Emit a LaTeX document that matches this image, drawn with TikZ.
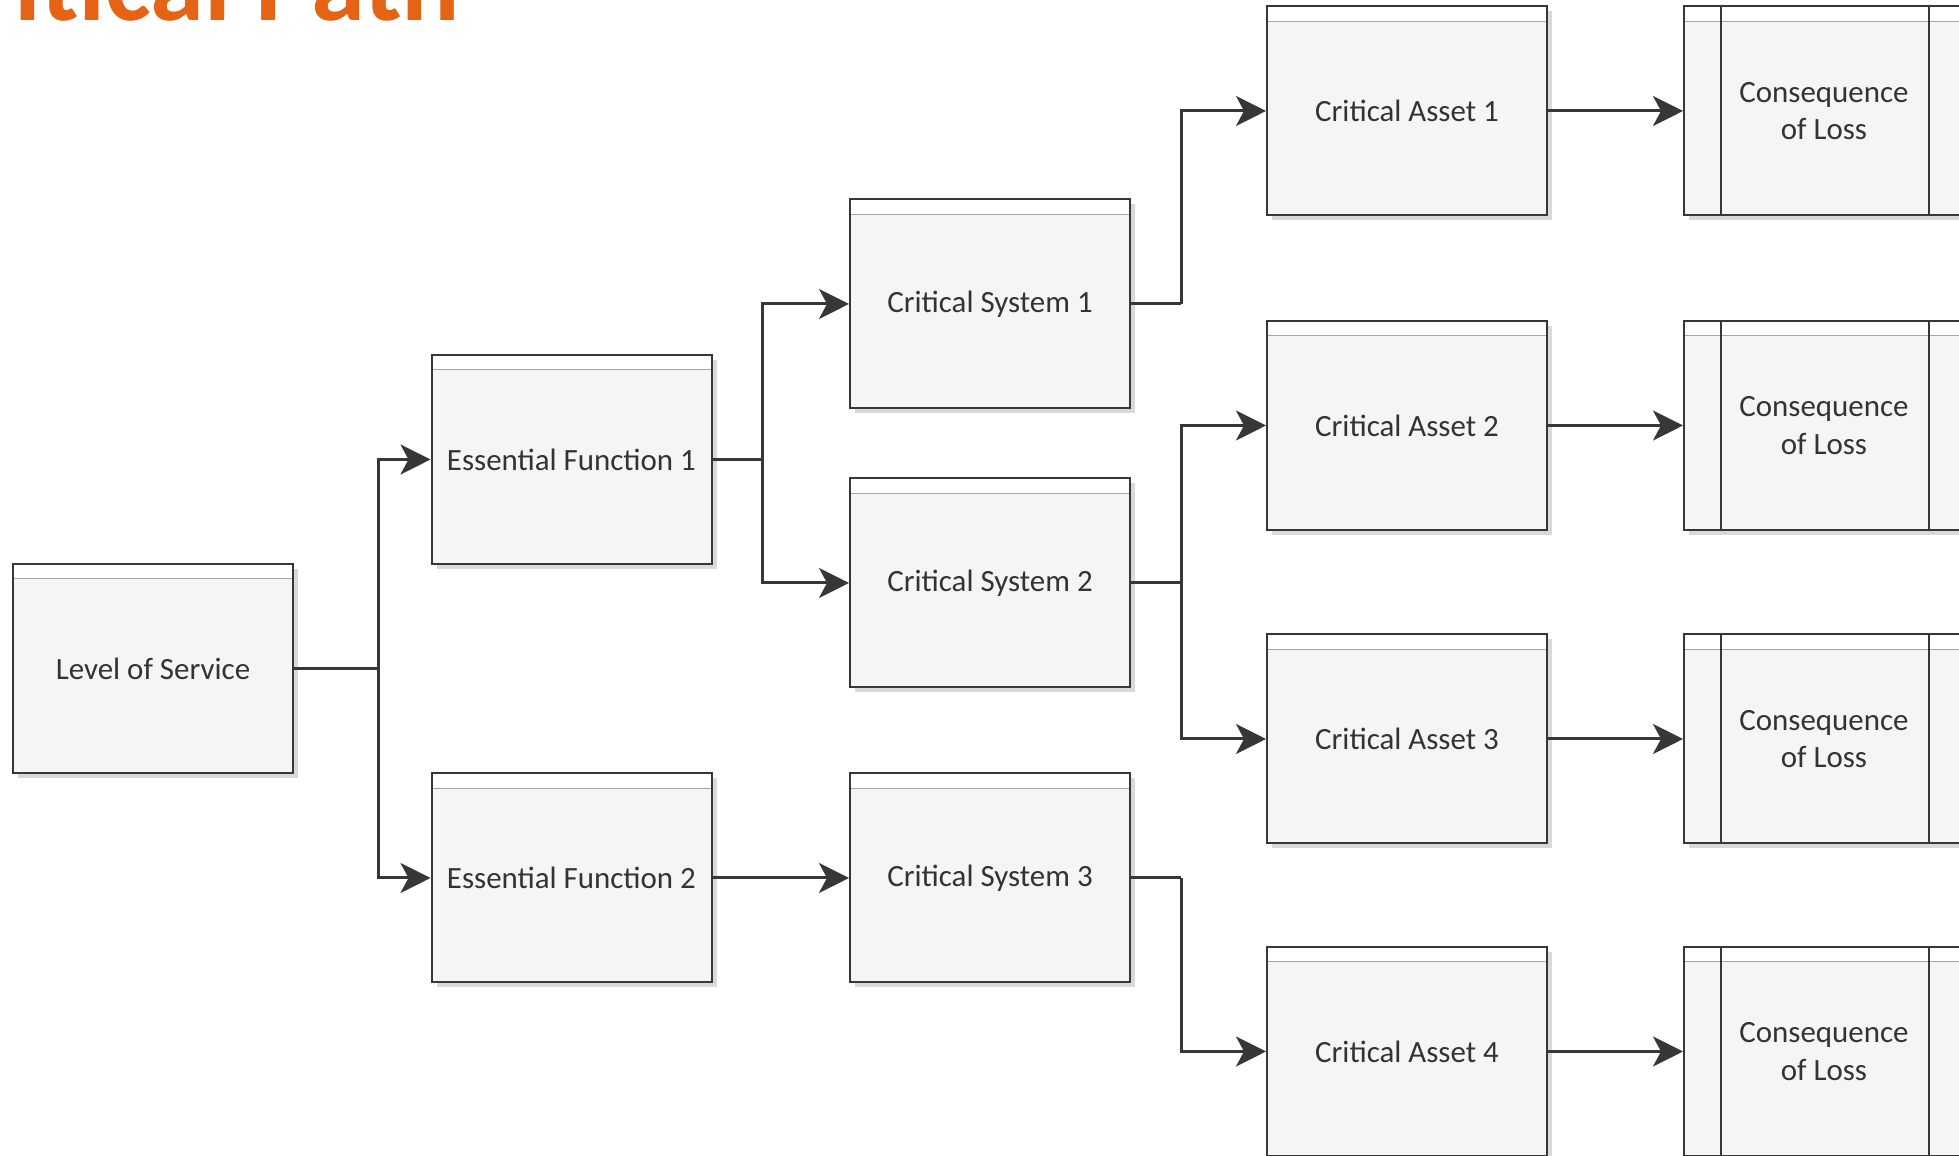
\documentclass[tikz,border=0pt]{standalone}
\usepackage{fontspec}
\setmainfont{Carlito}
\usetikzlibrary{arrows.meta,shadows}
\definecolor{titleorange}{RGB}{228,99,21}
\definecolor{linegray}{RGB}{55,55,55}

\begin{document}
\begin{tikzpicture}[
  boxbase/.style={draw=linegray, line width=0.02cm, fill=black!4,
    minimum width=2.8cm, minimum height=2.09cm, inner sep=0pt,
    text=black!80, font=\fontsize{8.8}{10.7}\selectfont, align=center,
    general shadow={fill=black!15, shadow xshift=0.05cm, shadow yshift=-0.05cm}},
  block/.style={boxbase,
    path picture={
      \fill[white] (path picture bounding box.north west) rectangle ([yshift=-0.15cm]path picture bounding box.north east);
      \draw[black!35, line width=0.01cm] ([yshift=-0.15cm]path picture bounding box.north west) -- ([yshift=-0.15cm]path picture bounding box.north east);
    }},
  lossbox/.style={boxbase,
    path picture={
      \fill[white] (path picture bounding box.north west) rectangle ([yshift=-0.15cm]path picture bounding box.north east);
      \draw[black!35, line width=0.01cm] ([yshift=-0.15cm]path picture bounding box.north west) -- ([yshift=-0.15cm]path picture bounding box.north east);
      \draw[linegray, line width=0.02cm] ([xshift=0.37cm]path picture bounding box.north west) -- ([xshift=0.37cm]path picture bounding box.south west);
      \draw[linegray, line width=0.02cm] ([xshift=-0.35cm]path picture bounding box.north east) -- ([xshift=-0.35cm]path picture bounding box.south east);
    }},
  arr/.style={draw=linegray, line width=0.03cm, -{Stealth[length=0.3cm, width=0.3cm, inset=0.08cm]}},
  ln/.style={draw=linegray, line width=0.03cm}
]
\clip (0,0) rectangle (19.59,-11.56);

% title
\node[anchor=base west, inner sep=0pt, text=titleorange, font=\fontsize{31}{31}\bfseries] (title) at (0.14,-0.21) {itical Path};

\node[block] (los) at (1.53,-6.685) {Level of Service};

\node[block] (ef1) at (5.715,-4.595) {Essential Function 1};
\node[block] (ef2) at (5.715,-8.78) {Essential Function 2};

\node[block] (cs1) at (9.90,-3.04) {Critical System 1};
\node[block] (cs2) at (9.90,-5.83) {Critical System 2};
\node[block] (cs3) at (9.90,-8.78) {Critical System 3};

\node[block] (ca1) at (14.07,-1.11) {Critical Asset 1};
\node[block] (ca2) at (14.07,-4.255) {Critical Asset 2};
\node[block] (ca3) at (14.07,-7.39) {Critical Asset 3};
\node[block] (ca4) at (14.07,-10.515) {Critical Asset 4};

\node[lossbox] (col1) at (18.24,-1.11) {Consequence\\of Loss};
\node[lossbox] (col2) at (18.24,-4.255) {Consequence\\of Loss};
\node[lossbox] (col3) at (18.24,-7.39) {Consequence\\of Loss};
\node[lossbox] (col4) at (18.24,-10.515) {Consequence\\of Loss};

% junctions
\coordinate (j1) at (3.78,-6.685);
\coordinate (j2) at (7.62,-4.595);
\coordinate (j3) at (11.81,-3.04);
\coordinate (j4) at (11.81,-5.83);
\coordinate (j5) at (11.81,-8.78);

\draw[ln] (los.east) -- (j1);
\draw[arr] (j1) |- (ef1.west);
\draw[arr] (j1) |- (ef2.west);

\draw[ln] (ef1.east) -- (j2);
\draw[arr] (j2) |- (cs1.west);
\draw[arr] (j2) |- (cs2.west);
\draw[arr] (ef2) -- (cs3);

\draw[ln] (cs1.east) -- (j3);
\draw[arr] (j3) |- (ca1.west);
\draw[ln] (cs2.east) -- (j4);
\draw[arr] (j4) |- (ca2.west);
\draw[arr] (j4) |- (ca3.west);
\draw[ln] (cs3.east) -- (j5);
\draw[arr] (j5) |- (ca4.west);

\draw[arr] (ca1) -- (col1);
\draw[arr] (ca2) -- (col2);
\draw[arr] (ca3) -- (col3);
\draw[arr] (ca4) -- (col4);
\end{tikzpicture}
\end{document}
